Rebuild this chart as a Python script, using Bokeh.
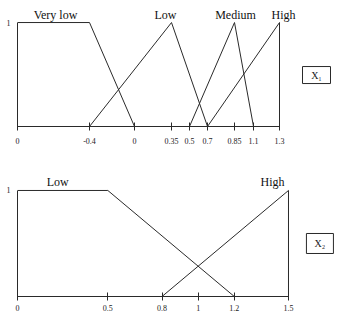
import numpy as np
from bokeh.plotting import figure
from bokeh.models import Range1d, FixedTicker, Label
from bokeh.layouts import column
from bokeh.embed import file_html
from bokeh.resources import INLINE

# ---------------- data ----------------
# X1 (schematic, non-linear axis)
x1_values = [-0.4, 0, 0.35, 0.5, 0.7, 0.85, 1.1, 1.3]
x1_labels = ["-0.4", "0", "0.35", "0.5", "0.7", "0.85", "1.1", "1.3"]
x1_origin_label = "0"
vlow1_x = [-0.4, 0]          # plateau from origin up to -0.4, then falls to 0
vlow1_y = [1, 0]
low1_x = [-0.4, 0.35, 0.7]
low1_y = [0, 1, 0]
med1_x = [0.5, 0.85, 1.1]
med1_y = [0, 1, 0]
high1_x = [0.7, 1.3, 1.3]
high1_y = [0, 1, 0]
names1 = ["Very low", "Low", "Medium", "High"]

# X2 (linear axis)
x2_ticks = [0, 0.5, 0.8, 1, 1.2, 1.5]
x2_labels = ["0", "0.5", "0.8", "1", "1.2", "1.5"]
low2_x = [0, 0.5, 1.2]
low2_y = [1, 1, 0]
high2_x = [0.8, 1.5, 1.5]
high2_y = [0, 1, 0]
names2 = ["Low", "High"]

# ---------------- layout helpers ----------------
# drawn spacing of the schematic X1 axis (screen-like units from origin)
x1_draw = [72, 117, 154, 172, 190, 217, 236, 262]
def m1(v):
    return list(np.interp(v, x1_values, x1_draw))

SERIF = "Liberation Serif"
LINE = "#2a2a2a"

def style(p):
    p.xgrid.visible = False
    p.ygrid.visible = False
    p.outline_line_color = None
    p.background_fill_color = "white"
    p.border_fill_color = "white"
    for ax in (p.xaxis, p.yaxis):
        ax.axis_line_color = LINE
        ax.axis_line_width = 1
        ax.major_tick_line_color = LINE
        ax.minor_tick_line_color = None
        ax.major_label_text_font = SERIF
        ax.major_label_text_font_size = "8px"
        ax.major_label_text_color = "#222222"
    p.yaxis.ticker = FixedTicker(ticks=[1])
    p.yaxis.major_label_overrides = {1: "1"}
    p.yaxis.major_tick_out = 0
    p.yaxis.major_tick_in = 0
    p.yaxis.major_label_standoff = 7
    p.yaxis.bounds = (0, 1)
    p.xaxis.major_tick_in = 4
    p.xaxis.major_tick_out = 4

# ---------------- top figure ----------------
p1 = figure(width=344, height=164, output_backend="svg", toolbar_location=None,
            x_range=Range1d(0, 327), y_range=Range1d(0, 1.135),
            min_border_left=17, min_border_right=0, min_border_top=8, min_border_bottom=38)
style(p1)
tick_pos1 = [0] + x1_draw
p1.xaxis.ticker = FixedTicker(ticks=tick_pos1)
p1.xaxis.major_label_overrides = {t: l for t, l in zip(tick_pos1, [x1_origin_label] + x1_labels)}
p1.xaxis.major_label_standoff = 7
p1.xaxis.bounds = (0, x1_draw[-1])

p1.line([0] + m1(vlow1_x), [1] + vlow1_y, line_color=LINE, line_width=1)
p1.line(m1(low1_x), low1_y, line_color=LINE, line_width=1)
p1.line(m1(med1_x), med1_y, line_color=LINE, line_width=1)
p1.line(m1(high1_x), high1_y, line_color=LINE, line_width=1)

peaks1 = [(0 + m1([-0.4])[0]) / 2, m1([0.35])[0], m1([0.85])[0], m1([1.3])[0]]
offs1 = [2, -6, 1, 4]
for name, px, dx in zip(names1, peaks1, offs1):
    p1.add_layout(Label(x=px, y=1, text=name, text_align="center", text_baseline="bottom",
                        x_offset=dx, y_offset=1, text_font=SERIF, text_font_size="12px",
                        text_color="#111111"))

p1.rect(x=[299], y=[0.495], width=28, height=17, width_units="screen", height_units="screen",
        fill_color=None, line_color=LINE, line_width=1)
p1.add_layout(Label(x=299, y=0.495, text="X\u2081", text_align="center", text_baseline="middle",
                    text_font=SERIF, text_font_size="10px", text_color="#222222"))

# ---------------- bottom figure ----------------
p2 = figure(width=344, height=152, output_backend="svg", toolbar_location=None,
            x_range=Range1d(0, 1.81), y_range=Range1d(0, 1.245),
            min_border_left=17, min_border_right=0, min_border_top=0, min_border_bottom=20)
style(p2)
p2.xaxis.ticker = FixedTicker(ticks=x2_ticks)
p2.xaxis.major_label_overrides = {t: l for t, l in zip(x2_ticks, x2_labels)}
p2.xaxis.major_label_standoff = 4
p2.xaxis.bounds = (0, 1.5)

p2.line(low2_x, low2_y, line_color=LINE, line_width=1)
p2.line(high2_x, high2_y, line_color=LINE, line_width=1)

p2.add_layout(Label(x=(low2_x[0] + low2_x[1]) / 2, y=1, text=names2[0], text_align="center",
                    text_baseline="bottom", x_offset=-5, y_offset=1, text_font=SERIF,
                    text_font_size="12px", text_color="#111111"))
p2.add_layout(Label(x=high2_x[1], y=1, text=names2[1], text_align="center",
                    text_baseline="bottom", x_offset=-16, y_offset=1, text_font=SERIF,
                    text_font_size="12px", text_color="#111111"))

p2.rect(x=[1.674], y=[0.5], width=27, height=20, width_units="screen", height_units="screen",
        fill_color=None, line_color=LINE, line_width=1)
p2.add_layout(Label(x=1.674, y=0.5, text="X\u2082", text_align="center", text_baseline="middle",
                    text_font=SERIF, text_font_size="10px", text_color="#222222"))

layout = column(p1, p2, spacing=0)
open("out.html", "w").write(file_html(layout, INLINE))
